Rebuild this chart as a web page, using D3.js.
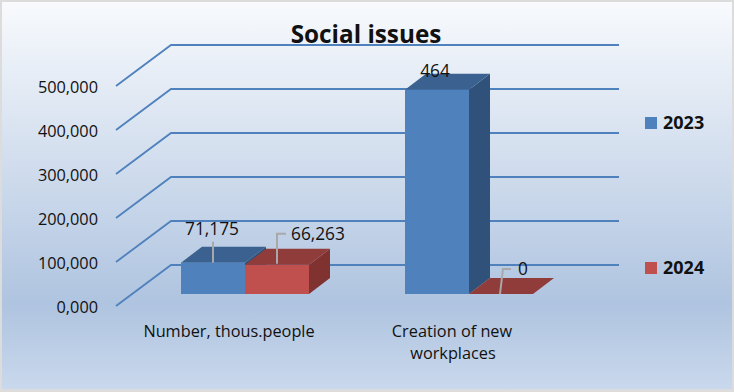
<!DOCTYPE html>
<html>
<head>
<meta charset="utf-8">
<script src="https://d3js.org/d3.v7.min.js"></script>
<style>
  html, body { margin: 0; padding: 0; background: #dcdcdc; }
  svg { display: block; }
  text { font-family: "Open Sans", sans-serif; fill: #111; }
</style>
</head>
<body>
<svg id="chart" width="734" height="392"></svg>
<script>
const categories = ['Number, thous.people', 'Creation of new workplaces'];
const seriesNames = ['2023', '2024'];
const values2023 = [71.175, 464];
const values2024 = [66.263, 0];
const tickValues = [0, 100, 200, 300, 400, 500];

const seriesColors = {
    '2023': { front: '#4f81bd', top: '#3a618f', side: '#30527a' },
    '2024': { front: '#c0504d', top: '#903c3a', side: '#7f3230' }
};

const svg = d3.select('#chart');

// oblique projection: the floor runs back by this much
const wallDx = 55, wallDy = -41;
const barInsetX = 16, barInsetY = -12;
const barDepthX = 21, barDepthY = -16;

const y = d3.scaleLinear().domain([0, 500]).range([306, 86]);
const x = d3.scaleBand().domain(categories).range([117, 565]).paddingInner(0.4286).paddingOuter(0.2143);
const xInner = d3.scaleBand().domain(seriesNames).range([0, x.bandwidth()]);

// comma as decimal mark, as on the original axis
const fmt = d3.formatLocale({ decimal: ',', thousands: ' ', grouping: [3], currency: ['', ''] }).format('.3f');
const labelFmt = v => Number.isInteger(v) ? String(v) : fmt(v);

// background
const defs = svg.append('defs');
const grad = defs.append('linearGradient').attr('id', 'bg').attr('x1', 0).attr('x2', 0).attr('y1', 0).attr('y2', 1);
grad.append('stop').attr('offset', '0%').attr('stop-color', '#f8fafd');
grad.append('stop').attr('offset', '78%').attr('stop-color', '#afc4e0');
grad.append('stop').attr('offset', '100%').attr('stop-color', '#c9d8ec');
svg.append('rect').attr('x', 2).attr('y', 2).attr('width', 730).attr('height', 387).attr('fill', 'url(#bg)');

// gridlines on the side and back walls
svg.append('g').selectAll('path')
    .data(tickValues)
    .enter()
    .append('path')
    .attr('fill', 'none')
    .attr('stroke', '#4f81bd')
    .attr('stroke-width', 1.8)
    .attr('d', d => {
        const p = d3.path();
        p.moveTo(116, y(d));
        p.lineTo(116 + wallDx, y(d) + wallDy);
        p.lineTo(619, y(d) + wallDy);
        return p.toString();
    });

// value axis
const axis = svg.append('g')
    .attr('transform', 'translate(106,1)')
    .call(d3.axisLeft(y).tickValues(tickValues).tickFormat(fmt).tickSize(0).tickPadding(8));
axis.select('.domain').remove();
axis.selectAll('text').attr('font-size', 16.3).attr('font-family', '"Open Sans", sans-serif').attr('fill', '#111');

// flatten series into one list of bars
const bars = [];
categories.forEach((c, i) => {
    bars.push({ category: c, series: '2023', value: values2023[i] });
    bars.push({ category: c, series: '2024', value: values2024[i] });
});

const barX = d => x(d.category) + xInner(d.series) + barInsetX;
const barBase = y(0) + barInsetY;
const barTop = d => y(d.value) + barInsetY;
const w = xInner.bandwidth();

const barG = svg.append('g').selectAll('g').data(bars).enter().append('g');

// right side
barG.append('path')
    .attr('fill', d => seriesColors[d.series].side)
    .attr('d', d => `M${barX(d) + w},${barBase}L${barX(d) + w + barDepthX},${barBase + barDepthY}` +
        `L${barX(d) + w + barDepthX},${barTop(d) + barDepthY}L${barX(d) + w},${barTop(d)}Z`);
// top
barG.append('path')
    .attr('fill', d => seriesColors[d.series].top)
    .attr('d', d => `M${barX(d)},${barTop(d)}L${barX(d) + barDepthX},${barTop(d) + barDepthY}` +
        `L${barX(d) + w + barDepthX},${barTop(d) + barDepthY}L${barX(d) + w},${barTop(d)}Z`);
// front
barG.append('rect')
    .attr('x', barX)
    .attr('y', barTop)
    .attr('width', w)
    .attr('height', d => barBase - barTop(d))
    .attr('fill', d => seriesColors[d.series].front);

// leader lines and data labels, offsets per bar since the labels were hand placed
const labelOffsets = [
    { dx: 31, dy: -34, leader: [[32, 0], [32, -21]] },
    { dx: 46, dy: -31, leader: [[32, -1], [32, -31], [41, -31]] },
    null,
    { dx: 49, dy: -25, leader: [[31, 0], [34, -25], [42, -25]] }
];
const labelG = svg.append('g');
bars.forEach((d, i) => {
    const o = labelOffsets[i];
    if (o) {
        labelG.append('path')
            .attr('fill', 'none')
            .attr('stroke', '#a8a8a8')
            .attr('stroke-width', 2)
            .attr('d', d3.line()(o.leader.map(p => [barX(d) + p[0], barTop(d) + p[1]])));
    }
    labelG.append('text')
        .attr('x', barX(d) + (o ? o.dx : 30))
        .attr('y', barTop(d) + (o ? o.dy : -19))
        .attr('dy', '0.35em')
        .attr('font-size', 17.3)
        .attr('text-anchor', o && i !== 0 ? 'start' : 'middle')
        .text(labelFmt(d.value));
});

// category labels, second one wraps
const catLines = { [categories[0]]: ['Number, thous.people'], [categories[1]]: ['Creation of new', 'workplaces'] };
categories.forEach(c => {
    catLines[c].forEach((line, i) => {
        svg.append('text')
            .attr('x', x(c) + x.bandwidth() / 2 - (i === 0 && c === categories[1] ? 1 : 0))
            .attr('y', 331 + i * 22)
            .attr('dy', '0.35em')
            .attr('text-anchor', 'middle')
            .attr('font-size', 16.3)
            .text(line);
    });
});

// title
svg.append('text')
    .attr('x', 366).attr('y', 34).attr('dy', '0.35em')
    .attr('text-anchor', 'middle')
    .attr('font-size', 24.3).attr('font-weight', 700)
    .text('Social issues');

// legend
const legendY = { '2023': 123, '2024': 268 };
seriesNames.forEach(s => {
    svg.append('rect')
        .attr('x', 645).attr('y', legendY[s] - 6)
        .attr('width', 12).attr('height', 12)
        .attr('fill', seriesColors[s].front);
    svg.append('text')
        .attr('x', 663).attr('y', legendY[s]).attr('dy', '0.35em')
        .attr('font-size', 18).attr('font-weight', 700)
        .text(s);
});
</script>
</body>
</html>
